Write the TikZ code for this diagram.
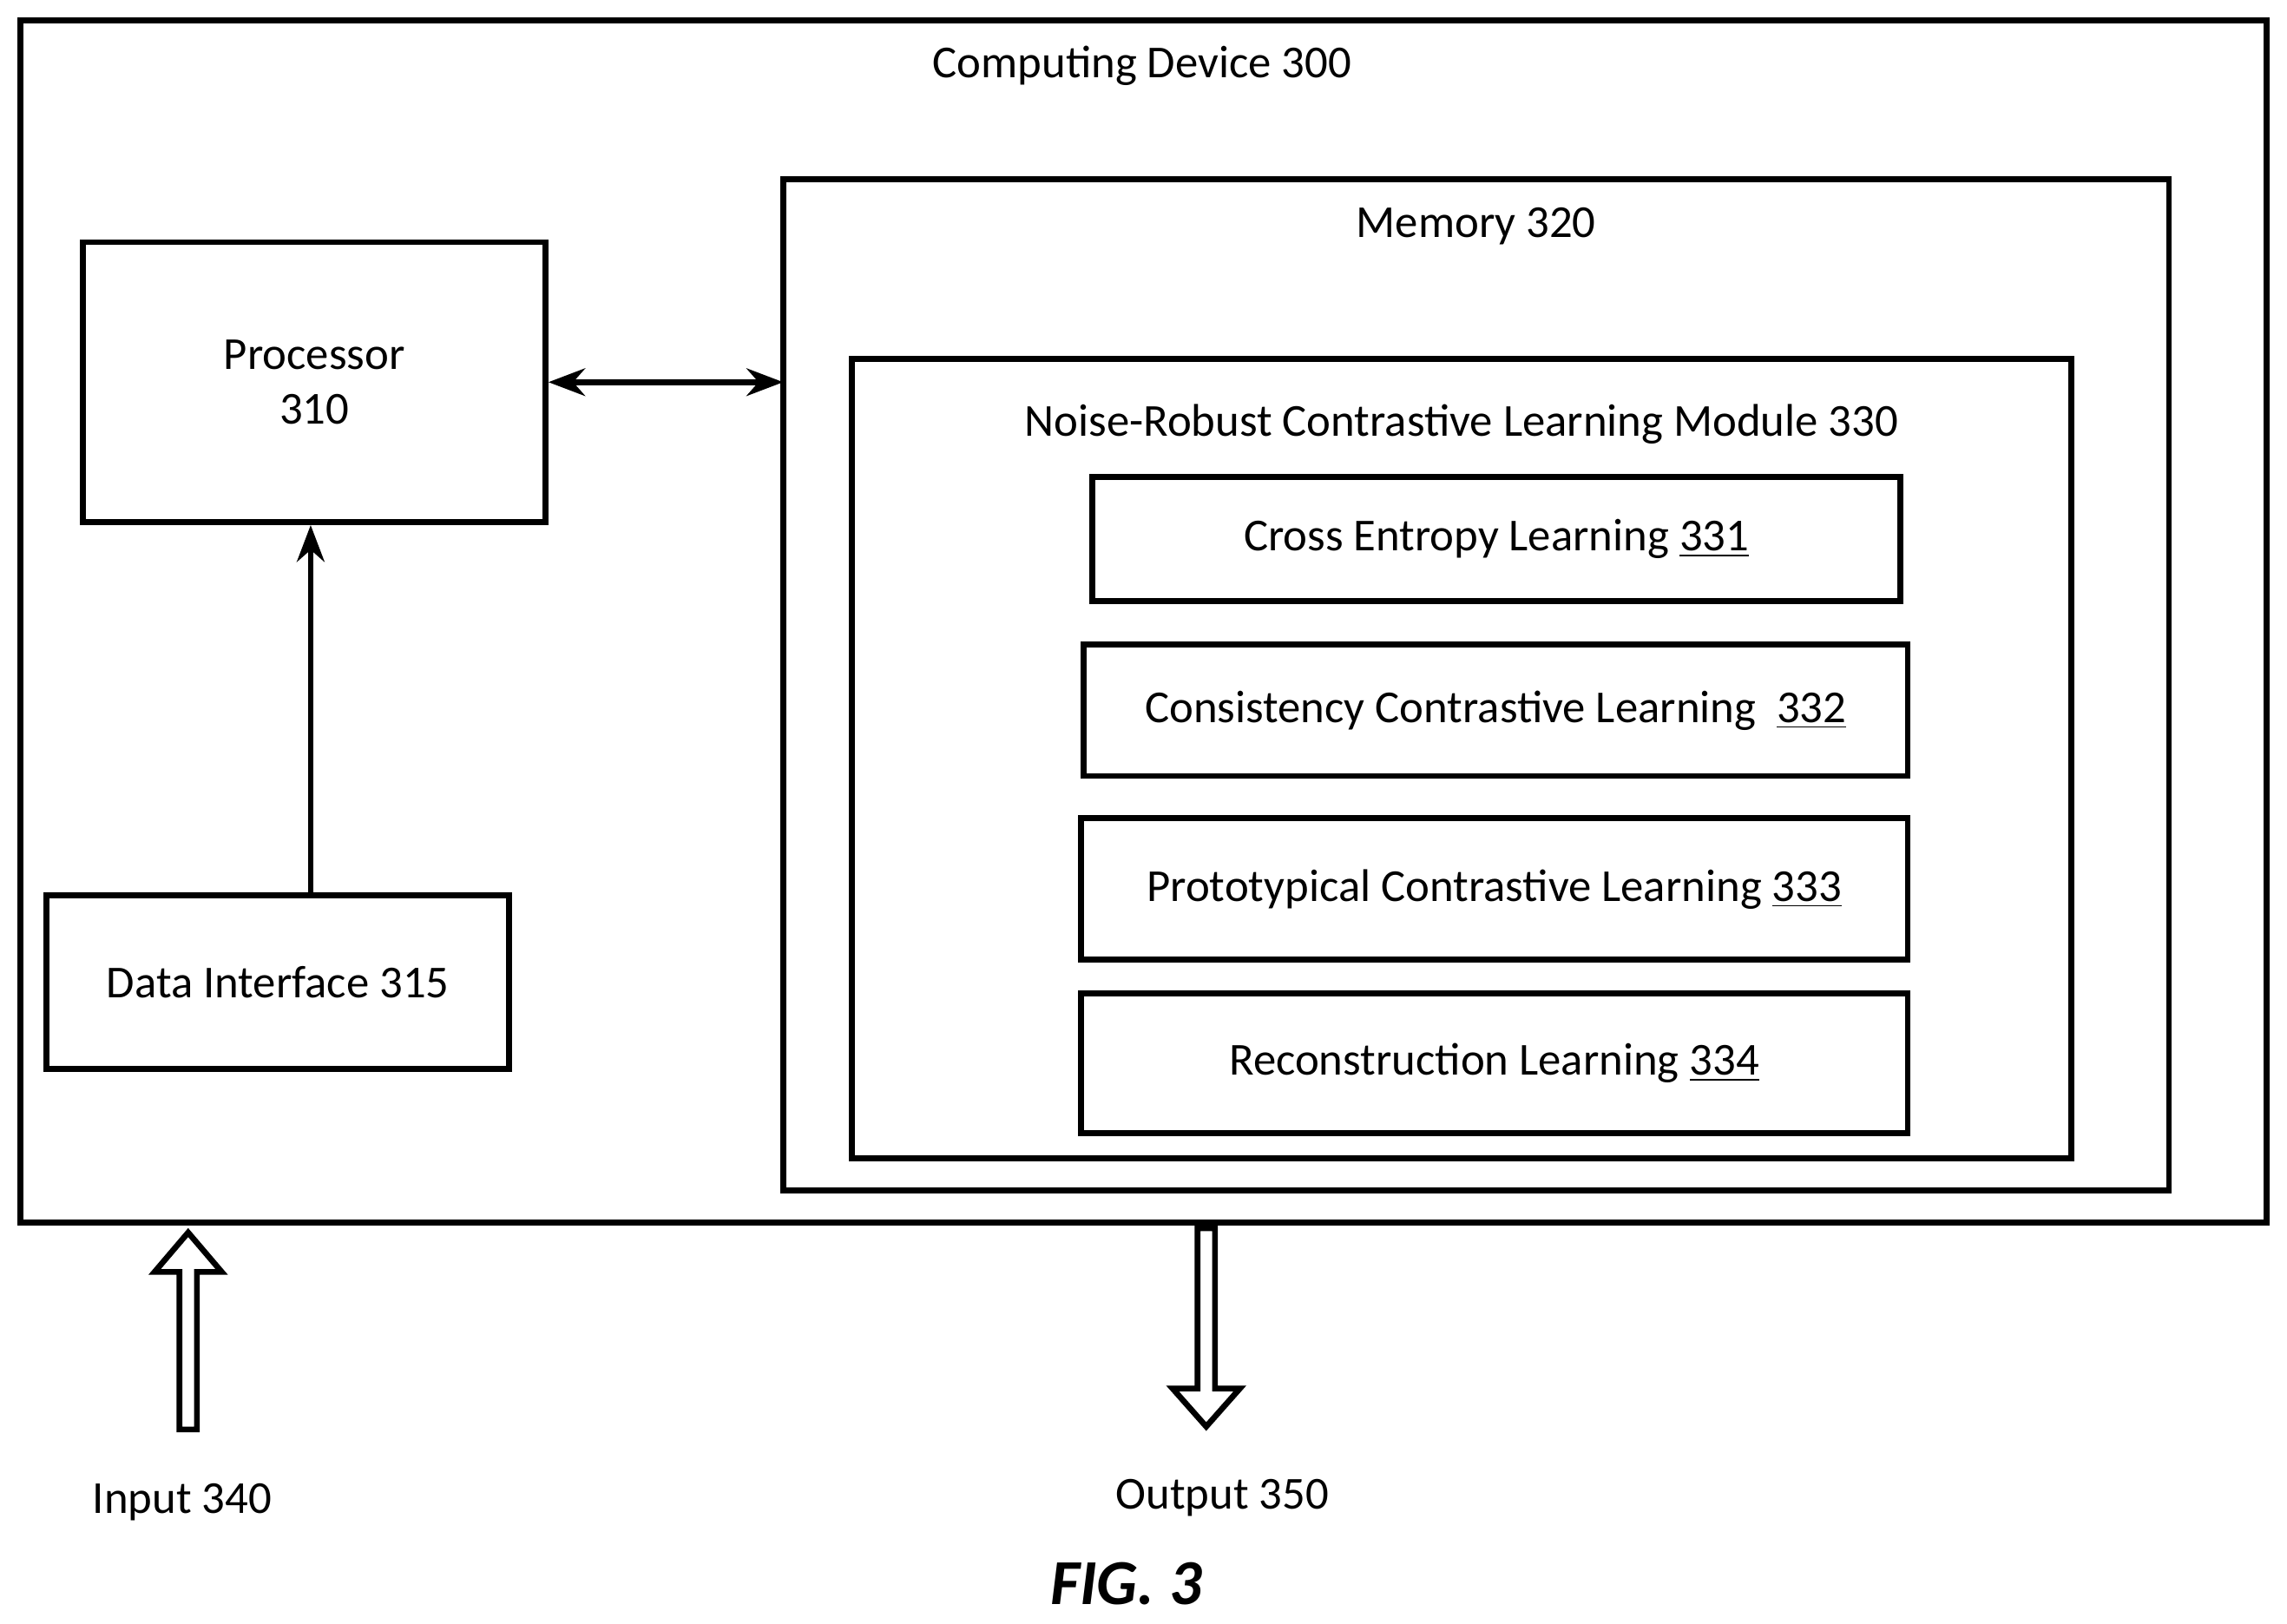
\documentclass[tikz,border=0pt]{standalone}
\usepackage{fontspec}
\setmainfont{Carlito}
\usetikzlibrary{positioning}
\usetikzlibrary{arrows.meta}

\begin{document}
\begin{tikzpicture}[x=0.016805cm,y=-0.016805cm,
  box/.style={draw, line width=1.9pt, inner sep=0pt},
  lbl/.style={font=\fontsize{15}{18}\selectfont},
  conn/.style={line width=1.9pt, -{Stealth[length=12pt,width=9pt]}}]
\useasboundingbox (0,0) rectangle (1568,1113);

% frames
\draw[box] (14,14) rectangle (1554,838);
\node[lbl] (dev) at (783,45) {Computing Device 300};
\draw[box] (537,123) rectangle (1487,816);
\node[lbl] (mem) at (1012,155) {Memory 320};
\draw[box] (584,246) rectangle (1420,794);
\node[lbl] (mod) at (1002,291) {Noise-Robust Contrastive Learning Module 330};

% blocks
\node[box, lbl, minimum width=317*0.016805cm, minimum height=192*0.016805cm, align=center] (proc) at (215.5,262) {Processor\\310};
\node[box, lbl, minimum width=317*0.016805cm, minimum height=119*0.016805cm] (di) at (190.5,673.5) {Data Interface 315};
\node[box, lbl, minimum width=554*0.016805cm, minimum height=85*0.016805cm] (ce) at (1026,369.5) {Cross Entropy Learning \underline{331}};
\node[box, lbl, minimum width=565*0.016805cm, minimum height=90*0.016805cm] (cc) at (1025.5,487) {Consistency Contrastive Learning~~\underline{332}};
\node[box, lbl, minimum width=567*0.016805cm, minimum height=97*0.016805cm] (pc) at (1024.5,609.5) {Prototypical Contrastive Learning \underline{333}};
\node[box, lbl, minimum width=567*0.016805cm, minimum height=96*0.016805cm] (rl) at (1024.5,729) {Reconstruction Learning \underline{334}};

% connectors
\coordinate (memw) at (537,262);
\draw[conn, {Stealth[length=12pt,width=9pt]}-{Stealth[length=12pt,width=9pt]}] (proc.east) -- (memw);
\draw[conn] (di.north -| 213,0) -- (proc.south -| 213,0);

% hollow arrows
\draw[line width=1.9pt, fill=white] (123,980) -- (135,980) -- (135,872) -- (152,872) -- (129,845) -- (106,872) -- (123,872) -- cycle;
\draw[line width=1.9pt, fill=white] (821,842) -- (833,842) -- (833,952) -- (850,952) -- (827,978) -- (804,952) -- (821,952) -- cycle;

\node[lbl] (in) at (125,1030) {Input 340};
\node[lbl] (out) at (838,1027) {Output 350};
\node[font=\fontsize{21}{25}\selectfont\bfseries\itshape] (fig) at (772,1086) {FIG. 3};
\end{tikzpicture}
\end{document}
